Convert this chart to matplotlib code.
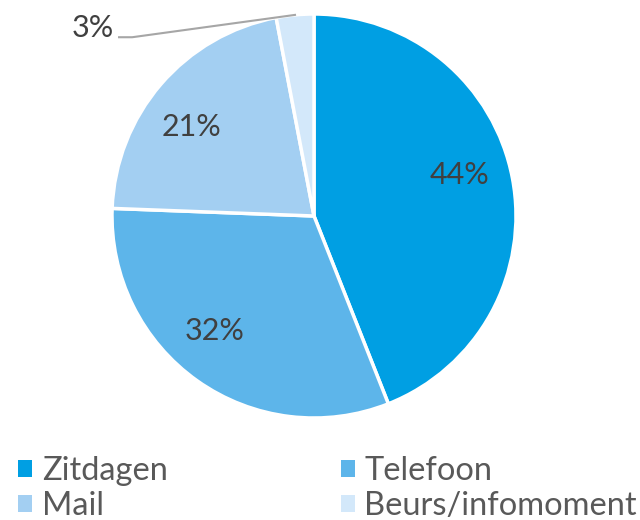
import matplotlib.pyplot as plt
import numpy as np
from matplotlib.patches import Patch

plt.rcParams['font.family'] = ['Lato', 'DejaVu Sans']

categories = ['Zitdagen', 'Telefoon', 'Mail', 'Beurs/infomoment']
values = [44.0, 31.6, 21.4, 3.0]
pct_labels = ['44%', '32%', '21%', '3%']
colors = ['#009fe3', '#5db5ea', '#a3cff2', '#d3e8fa']
text_color = '#595959'

fig = plt.figure(figsize=(6.4, 5.2), dpi=100)
ax = fig.add_axes([112 / 640, 102 / 520, 404 / 640, 404 / 520])

wedges, _ = ax.pie(values, colors=colors, startangle=90, counterclock=False,
                   radius=1, wedgeprops=dict(edgecolor='white', linewidth=2.5))
ax.set_xlim(-1, 1)
ax.set_ylim(-1, 1)
ax.set_aspect('equal')
ax.axis('off')

# labels inside for the big slices (small nudges like excel does)
shift = [5, -5.5, 4.5]
for w, lab, s in zip(wedges[:3], pct_labels[:3], shift):
    ang = np.deg2rad((w.theta1 + w.theta2) / 2 + s)
    ax.text(0.75 * np.cos(ang), 0.75 * np.sin(ang), lab, ha='center', va='center',
            fontsize=22, color='#404040')

# small slice: label outside with leader line
w = wedges[3]
ang = np.deg2rad((w.theta1 + w.theta2) / 2)
ex, ey = np.cos(ang), np.sin(ang)
ax.plot([-0.965, -0.90, ex], [0.885, 0.885, ey], color='#a6a6a6', lw=1.5,
        clip_on=False)
ax.text(-0.99, 0.93, pct_labels[3], ha='right', va='center', fontsize=22,
        color='#404040', clip_on=False)

# legend filled row by row like the original
order = [0, 2, 1, 3]
handles = [Patch(facecolor=colors[i], edgecolor='none') for i in order]
fig.legend(handles, [categories[i] for i in order], loc='lower left',
           bbox_to_anchor=(-0.017, -0.058), ncol=2, frameon=False, fontsize=23.5,
           labelcolor=text_color, handlelength=0.42, handleheight=0.42,
           handletextpad=0.3, columnspacing=5.3, labelspacing=0.15)

fig.savefig('out.png', dpi=100)
